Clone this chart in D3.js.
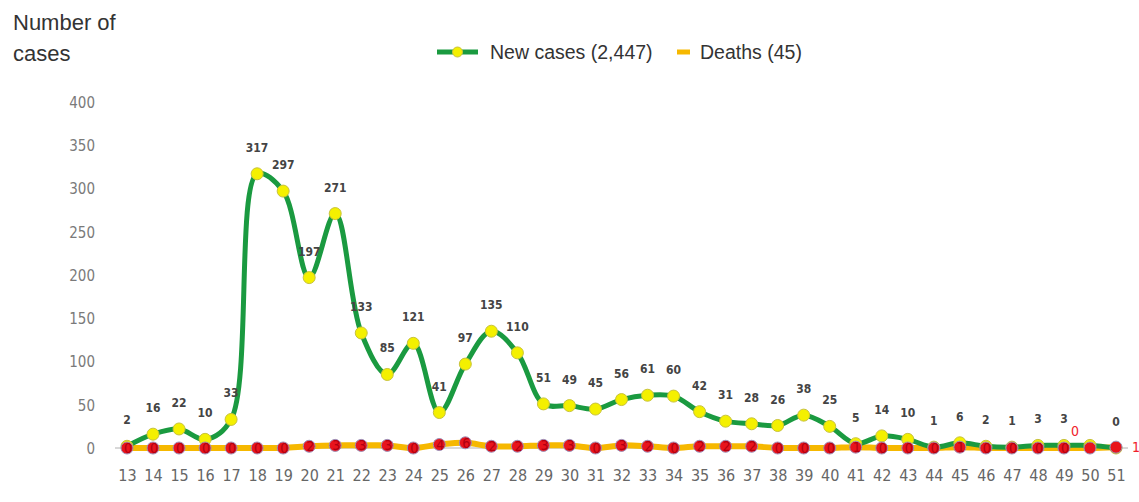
<!DOCTYPE html>
<html>
<head>
<meta charset="utf-8">
<script src="https://cdn.jsdelivr.net/npm/d3@7"></script>
<style>
body { margin:0; background:#fff; }
svg text { font-family: "Liberation Sans Narrow", "DejaVu Sans Condensed", "Open Sans", sans-serif; }
svg text.big { font-family: "Liberation Sans", Arial, sans-serif; }
</style>
</head>
<body>
<svg id="chart"></svg>
<script>
var weeks = ["13","14","15","16","17","18","19","20","21","22","23","24","25","26","27","28","29","30","31","32","33","34","35","36","37","38","39","40","41","42","43","44","45","46","47","48","49","50","51"]

var newCases = [2,16,22,10,33,317,297,197,271,133,85,121,41,97,135,110,51,49,45,56,61,60,42,31,28,26,38,25,5,14,10,1,6,2,1,3,3,3,0]

var deaths = [0,0,0,0,0,0,0,2,3,3,3,0,4,6,2,2,3,3,0,3,2,0,2,2,2,0,0,0,1,0,0,0,1,0,0,0,0,0,1]

// weeks where the case label is not shown
var hiddenCaseLabels = ["50"]

var yTicks = [0,50,100,150,200,250,300,350,400]

var screen = {width:1139, height:502}
var margins = {left:127, right:23, top:102, bottom:54}

var graph = {
    width: screen.width - margins.left - margins.right,
    height: screen.height - margins.top - margins.bottom
}

var svg = d3.select("#chart")
    .attr("width", screen.width)
    .attr("height", screen.height)

var xScale = d3.scalePoint()
    .domain(weeks)
    .range([0, graph.width])

var yScale = d3.scaleLinear()
    .domain([0,400])
    .range([graph.height,0])

var target = svg.append("g")
    .attr("transform","translate("+margins.left+","+margins.top+")")

// axes
var yAxis = d3.axisLeft(yScale).tickValues(yTicks).tickSize(0).tickPadding(32)
var yG = target.append("g").call(yAxis)
yG.select(".domain").remove()
yG.selectAll("text").attr("fill","#7a7a7a").style("font-size","15px").attr("dy","0.35em")

var xAxis = d3.axisBottom(xScale).tickSize(0).tickPadding(22)
var xG = target.append("g")
    .attr("transform","translate(0,"+graph.height+")")
    .call(xAxis)
xG.select(".domain").attr("stroke","#b0b0b0").attr("d","M-12,0H"+(graph.width+12))
xG.selectAll("text").attr("fill","#666").style("font-size","16px")

var cases = weeks.map(function(w,i){ return {week:w, value:newCases[i]} })
var dead = weeks.map(function(w,i){ return {week:w, value:deaths[i]} })

var line = d3.line()
    .x(function(d){ return xScale(d.week) })
    .y(function(d){ return yScale(d.value) })
    .curve(d3.curveCatmullRom.alpha(0.5))

// deaths line
target.append("path")
    .datum(dead)
    .attr("d", line)
    .attr("fill","none")
    .attr("stroke","#f6b800")
    .attr("stroke-width",6)

// new cases line
target.append("path")
    .datum(cases)
    .attr("d", line)
    .attr("fill","none")
    .attr("stroke","#1a9a40")
    .attr("stroke-width",5)

target.append("g").selectAll("circle")
    .data(cases)
    .enter()
    .append("circle")
    .attr("cx", function(d){ return xScale(d.week) })
    .attr("cy", function(d){ return yScale(d.value) })
    .attr("r",6)
    .attr("fill","#f4f000")
    .attr("stroke","#c8c23a")
    .attr("stroke-width",1)

target.append("g").selectAll("text")
    .data(cases.filter(function(d){ return hiddenCaseLabels.indexOf(d.week) < 0 }))
    .enter()
    .append("text")
    .attr("x", function(d){ return xScale(d.week) })
    .attr("y", function(d){ return yScale(d.value) - 22 })
    .attr("text-anchor","middle")
    .attr("fill","#444")
    .style("font-size","12px")
    .style("font-weight","bold")
    .text(function(d){ return d.value })

// deaths markers
target.append("g").selectAll("circle")
    .data(dead)
    .enter()
    .append("circle")
    .attr("cx", function(d){ return xScale(d.week) })
    .attr("cy", function(d){ return yScale(d.value) })
    .attr("r",6)
    .attr("fill","#e8141c")
    .attr("stroke","#9a8fb8")
    .attr("stroke-width",1)

target.append("g").selectAll("text")
    .data(dead)
    .enter()
    .append("text")
    .attr("x", function(d){
        if (d.week=="50") return xScale(d.week) - 15
        if (d.week=="51") return xScale(d.week) + 20
        return xScale(d.week) + 1 })
    .attr("y", function(d){
        if (d.week=="50") return yScale(d.value) - 12
        return yScale(d.value) + 5 })
    .attr("text-anchor","middle")
    .attr("fill", function(d){ return (d.week=="50"||d.week=="51") ? "#f0202a" : "#b00010" })
    .style("font-size","14px")
    .text(function(d){ return d.value })

// titles
var labels = svg.append("g")
labels.append("text").classed("big",true).text("Number of").attr("x",13).attr("y",30)
    .attr("fill","#333").style("font-size","22px")
labels.append("text").classed("big",true).text("cases").attr("x",13).attr("y",61)
    .attr("fill","#333").style("font-size","22px")

// legend
var legend = svg.append("g").attr("transform","translate(0,52)")
legend.append("line").attr("x1",437).attr("x2",478).attr("y1",0).attr("y2",0)
    .attr("stroke","#1a9a40").attr("stroke-width",5)
legend.append("circle").attr("cx",457.5).attr("cy",0).attr("r",5)
    .attr("fill","#f4f000").attr("stroke","#c8c23a")
legend.append("text").classed("big",true).text("New cases (2,447)").attr("x",490).attr("y",7)
    .attr("fill","#333").style("font-size","19.5px")
legend.append("line").attr("x1",677).attr("x2",690).attr("y1",0).attr("y2",0)
    .attr("stroke","#f6b800").attr("stroke-width",5)
legend.append("text").classed("big",true).text("Deaths (45)").attr("x",700).attr("y",7)
    .attr("fill","#333").style("font-size","19.5px")
</script>
</body>
</html>
